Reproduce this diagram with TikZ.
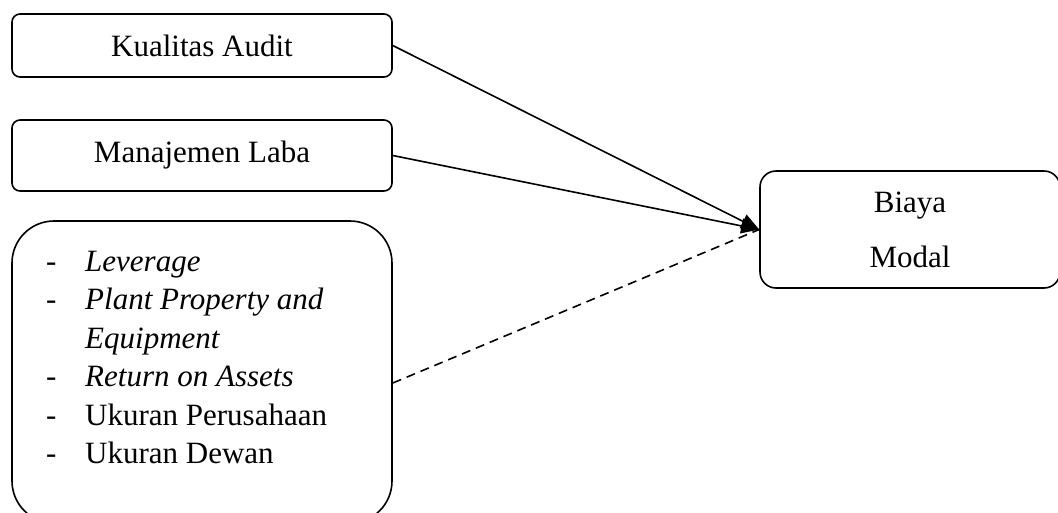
\documentclass[tikz,border=0pt]{standalone}
\usepackage{fontspec}
\setmainfont{Liberation Serif}
\usetikzlibrary{arrows.meta,calc}
\begin{document}
\begin{tikzpicture}[x=1pt,y=-1pt,
  box/.style={draw,line width=1.6pt,inner sep=0pt,font=\fontsize{31}{38.5}\selectfont},
  link/.style={line width=1.6pt,-{Triangle[length=18pt,width=15pt]}}]
\useasboundingbox (0,0) rectangle (1058,512);
\clip (0,0) rectangle (1058,512);
\node[box,rounded corners=8pt,minimum width=380pt,minimum height=63pt] (b1) at (202,45.5) {Kualitas Audit};
\node[box,rounded corners=8pt,minimum width=380pt,minimum height=71pt] (b2) at (202,155.5) {Manajemen Laba};
\node[box,rounded corners=42pt,minimum width=380pt,minimum height=302pt] (b3) at (202,372) {};
\node[anchor=north west,inner sep=0pt,font=\fontsize{31}{38.5}\selectfont] (list) at (46,244)
 {\begin{tabular}{@{}p{39pt}@{}l@{}}
 - & \textit{Leverage}\\
 - & \textit{Plant Property and}\\
   & \textit{Equipment}\\
 - & \textit{Return on Assets}\\
 - & Ukuran Perusahaan\\
 - & Ukuran Dewan
 \end{tabular}};
\node[box,rounded corners=16pt,minimum width=300pt,minimum height=117pt,align=center,font=\fontsize{31}{55}\selectfont] (b4) at (910,229.5) {Biaya\\Modal};
\draw[link] (b1.east) -- (b4.west);
\draw[link] (b2.east) -- (b4.west);
\draw[line width=1.6pt,dash pattern=on 9pt off 6pt] ($(b3.east)+(0,11)$) -- (b4.west);
\end{tikzpicture}
\end{document}
